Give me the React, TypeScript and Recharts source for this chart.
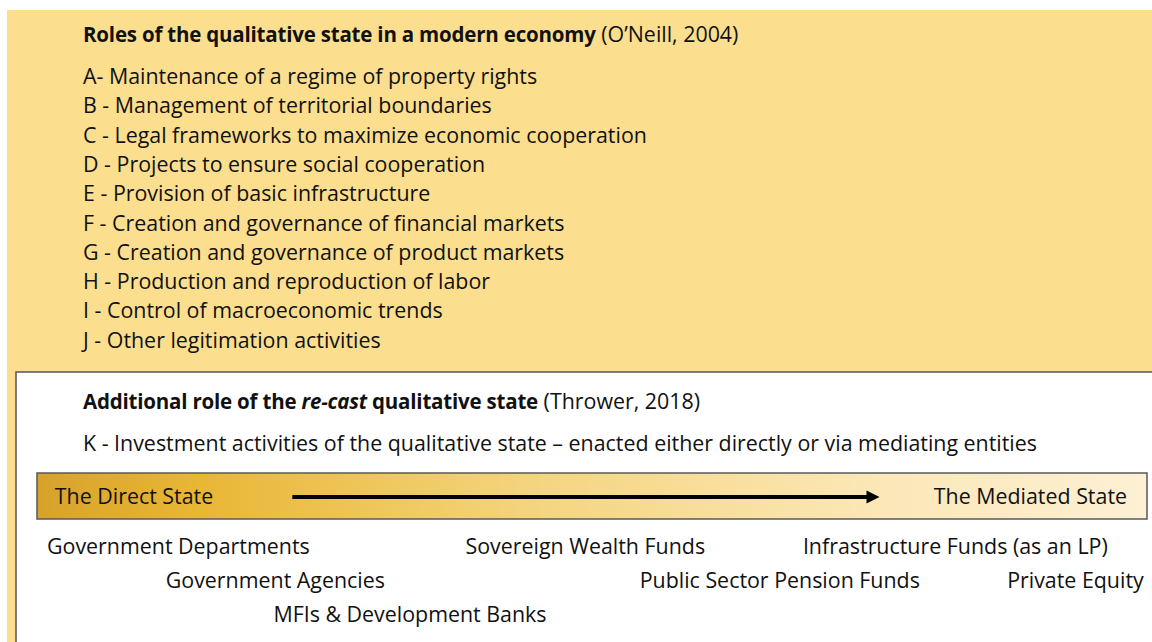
import { ComposedChart, ReferenceArea, ReferenceLine, Scatter, XAxis, YAxis } from "recharts";

const W = 1152;
const H = 642;
const FONT = "'Open Sans', sans-serif";

// O'Neill (2004) roles
const roles = [
  "A- Maintenance of a regime of property rights",
  "B - Management of territorial boundaries",
  "C - Legal frameworks to maximize economic cooperation",
  "D - Projects to ensure social cooperation",
  "E - Provision of basic infrastructure",
  "F - Creation and governance of financial markets",
  "G - Creation and governance of product markets",
  "H - Production and reproduction of labor",
  "I - Control of macroeconomic trends",
  "J - Other legitimation activities",
];
const extraRole = "K - Investment activities of the qualitative state \u2013 enacted either directly or via mediating entities";

// spectrum: 0 = direct state, 100 = mediated state
const entities = [
  "Government Departments",
  "Government Agencies",
  "MFIs & Development Banks",
  "Sovereign Wealth Funds",
  "Public Sector Pension Funds",
  "Infrastructure Funds (as an LP)",
  "Private Equity",
];
const entitySpectrum = [0.9, 11.6, 21.3, 38.6, 54.3, 69.0, 87.4];
const entityRow = [0, 1, 2, 0, 1, 0, 1];
const spectrumEnds = ["The Direct State", "The Mediated State"];
const arrowRange = [23.0, 75.9];

type Part = { t: string; b?: boolean; i?: boolean };
type Item = { x: number; y: number; parts: Part[]; anchor?: string };

const titleParts: Part[] = [
  { t: "Roles of the qualitative state in a modern economy", b: true },
  { t: " (O\u2019Neill, 2004)" },
];
const extraTitleParts: Part[] = [
  { t: "Additional role of the ", b: true },
  { t: "re-cast", b: true, i: true },
  { t: " qualitative state", b: true },
  { t: " (Thrower, 2018)" },
];

const textLeft = 83;
const headItems: Item[] = [
  { x: textLeft, y: 34, parts: titleParts },
  ...roles.map((r, i) => ({ x: textLeft, y: 76 + i * 29.3, parts: [{ t: r }] })),
  { x: textLeft, y: 401, parts: extraTitleParts },
  { x: textLeft, y: 443, parts: [{ t: extraRole }] },
];

const entityItems: Item[] = [
  ...entities.map((e, i) => ({ x: entitySpectrum[i], y: 546 + entityRow[i] * 34, parts: [{ t: e }] })),
  { x: 1.6, y: 496, parts: [{ t: spectrumEnds[0] }] },
  { x: 98.2, y: 496, parts: [{ t: spectrumEnds[1] }], anchor: "end" },
];

const arrowHead = [{ x: arrowRange[1], y: 497 }];

function TextShape(props: any) {
  const { cx, cy, payload } = props;
  return (
    <text x={cx} y={cy + 8} fontFamily={FONT} fill="#111" textAnchor={payload.anchor || "start"}>
      {payload.parts.map((p: Part, k: number) => (
        <tspan
          key={k}
          fontSize={p.b ? 20.5 : 21.4}
          letterSpacing={p.b ? -0.2 : 0}
          fontWeight={p.b ? 700 : 400}
          fontStyle={p.i ? "italic" : "normal"}
        >
          {p.t}
        </tspan>
      ))}
    </text>
  );
}

function ArrowHead(props: any) {
  const { cx, cy } = props;
  return <polygon points={`${cx},${cy} ${cx - 13},${cy - 6.5} ${cx - 13},${cy + 6.5}`} fill="#000" />;
}

export default function App() {
  return (
    <div style={{ position: "absolute", left: 0, top: 0, width: W, height: H, background: "#fff" }}>
      <ComposedChart width={W} height={H} margin={{ top: 0, right: 0, bottom: 0, left: 0 }}>
        <defs>
          <linearGradient id="spectrumGrad" x1="0" y1="0" x2="1" y2="0">
            <stop offset="0%" stopColor="#d7a22b" />
            <stop offset="15%" stopColor="#e9b736" />
            <stop offset="45%" stopColor="#f4d57f" />
            <stop offset="75%" stopColor="#fbe7b6" />
            <stop offset="100%" stopColor="#fdf0d4" />
          </linearGradient>
        </defs>
        <XAxis xAxisId="px" type="number" dataKey="x" domain={[0, W]} hide />
        <XAxis xAxisId="spec" type="number" dataKey="x" domain={[0, 100]} padding={{ left: 37, right: 5 }} hide />
        <YAxis type="number" dataKey="y" domain={[0, H]} reversed hide />
        <ReferenceArea xAxisId="px" x1={7} x2={W + 10} y1={10} y2={H + 10} fill="#fbdf8f" fillOpacity={1} stroke="none" ifOverflow="visible" />
        <ReferenceArea xAxisId="px" x1={16} x2={W + 10} y1={372} y2={H + 10} fill="#ffffff" fillOpacity={1} stroke="#555" strokeWidth={1.5} ifOverflow="visible" />
        <ReferenceArea xAxisId="px" x1={37} x2={1147} y1={473} y2={519} fill="url(#spectrumGrad)" fillOpacity={1} stroke="#5a5a5a" strokeWidth={1.5} />
        <ReferenceLine
          xAxisId="spec"
          segment={[{ x: arrowRange[0], y: 497 }, { x: arrowRange[1] - 1.1, y: 497 }]}
          stroke="#000"
          strokeWidth={4}
        />
        <Scatter xAxisId="spec" data={arrowHead} shape={ArrowHead} isAnimationActive={false} />
        <Scatter xAxisId="px" data={headItems} shape={TextShape} isAnimationActive={false} />
        <Scatter xAxisId="spec" data={entityItems} shape={TextShape} isAnimationActive={false} />
      </ComposedChart>
    </div>
  );
}
